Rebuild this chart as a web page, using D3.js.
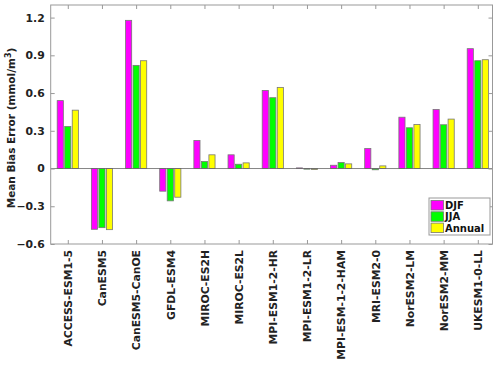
<!DOCTYPE html>
<html>
<head>
<meta charset="utf-8">
<script src="https://cdn.jsdelivr.net/npm/d3@7"></script>
<style>
  body { margin: 0; background: #fff; }
  text { font-family: "DejaVu Sans", sans-serif; font-weight: bold; }
</style>
</head>
<body>
<svg id="chart" width="500" height="369"></svg>
<script>
// models on the x axis
const models = [
  "ACCESS-ESM1-5", "CanESM5", "CanESM5-CanOE", "GFDL-ESM4", "MIROC-ES2H",
  "MIROC-ES2L", "MPI-ESM1-2-HR", "MPI-ESM1-2-LR", "MPI-ESM-1-2-HAM",
  "MRI-ESM2-0", "NorESM2-LM", "NorESM2-MM", "UKESM1-0-LL"
];

// mean bias error per season (mmol/m3)
const djf    = [0.54, -0.483, 1.178, -0.18, 0.223, 0.109, 0.621, 0.005, 0.026, 0.159, 0.408, 0.47, 0.953];
const jja    = [0.334, -0.47, 0.82, -0.257, 0.056, 0.034, 0.563, -0.005, 0.048, -0.01, 0.324, 0.348, 0.857];
const annual = [0.464, -0.486, 0.857, -0.228, 0.109, 0.045, 0.645, -0.008, 0.037, 0.021, 0.35, 0.393, 0.865];

const seriesNames = ["DJF", "JJA", "Annual"];
const seriesColors = ["#ff00ff", "#00ff00", "#ffff00"];
const yTicks = [-0.6, -0.3, 0, 0.3, 0.6, 0.9, 1.2];

const series = [djf, jja, annual];

const svg = d3.select("#chart");
const mLeft = 50.7, mRight = 492.5, mTop = 5, mBottom = 244;

const x = d3.scaleLinear().domain([0.5, 13.43]).range([mLeft, mRight]);
const y = d3.scaleLinear().domain([-0.6, 1.3]).range([mBottom, mTop]);

const groupStep = x(2) - x(1);
const barW = groupStep * 0.18;
const offset = groupStep * 0.22;

// ── bars ──
series.forEach((vals, si) => {
  svg.append("g")
    .selectAll("rect")
    .data(vals)
    .join("rect")
    .attr("x", (d, i) => x(i + 1) + (si - 1) * offset - barW / 2)
    .attr("y", d => y(Math.max(0, d)))
    .attr("width", barW)
    .attr("height", d => Math.abs(y(d) - y(0)))
    .attr("fill", seriesColors[si])
    .attr("stroke", "#777")
    .attr("stroke-width", 0.8);
});

// zero baseline
svg.append("line")
  .attr("x1", mLeft).attr("x2", mRight)
  .attr("y1", y(0)).attr("y2", y(0))
  .attr("stroke", "#666").attr("stroke-width", 0.8);

// ── axes (MATLAB style, ticks inward, box on) ──
const axisColor = "#999";
const tickLen = 4;

const yAxis = svg.append("g")
  .attr("transform", `translate(${mLeft},0)`)
  .call(d3.axisLeft(y).tickValues(yTicks).tickSizeInner(-tickLen).tickSizeOuter(0)
    .tickPadding(6).tickFormat(d => d === 0 ? "0" : d3.format(".1f")(d)));
yAxis.select(".domain").remove();
yAxis.selectAll("line").attr("stroke", axisColor);
yAxis.selectAll("text").attr("font-size", 10.8).attr("fill", "#222");

const yAxisR = svg.append("g")
  .attr("transform", `translate(${mRight},0)`)
  .call(d3.axisRight(y).tickValues(yTicks).tickSizeInner(-tickLen).tickSizeOuter(0).tickFormat(""));
yAxisR.select(".domain").remove();
yAxisR.selectAll("line").attr("stroke", axisColor);

const xAxis = svg.append("g")
  .attr("transform", `translate(0,${mBottom})`)
  .call(d3.axisBottom(x).tickValues(d3.range(1, 14)).tickSizeInner(-tickLen).tickSizeOuter(0)
    .tickFormat(d => models[d - 1]));
xAxis.select(".domain").remove();
xAxis.selectAll("line").attr("stroke", axisColor);
xAxis.selectAll("text")
  .attr("font-size", 10.8)
  .attr("fill", "#222")
  .attr("text-anchor", "end")
  .attr("transform", "rotate(-90)")
  .attr("x", -6)
  .attr("y", 0)
  .attr("dy", "0.35em");

const xAxisT = svg.append("g")
  .attr("transform", `translate(0,${mTop})`)
  .call(d3.axisTop(x).tickValues(d3.range(1, 14)).tickSizeInner(-tickLen).tickSizeOuter(0).tickFormat(""));
xAxisT.select(".domain").remove();
xAxisT.selectAll("line").attr("stroke", axisColor);

// frame
svg.append("rect")
  .attr("x", mLeft).attr("y", mTop)
  .attr("width", mRight - mLeft).attr("height", mBottom - mTop)
  .attr("fill", "none").attr("stroke", axisColor).attr("stroke-width", 1);

// y label
const ylab = svg.append("text")
  .attr("transform", "translate(15,128) rotate(-90)")
  .attr("text-anchor", "middle")
  .attr("font-size", 10.5)
  .attr("fill", "#222");
ylab.append("tspan").text("Mean Bias Error (mmol/m");
ylab.append("tspan").attr("dy", -4).attr("font-size", 8).text("3");
ylab.append("tspan").attr("dy", 4).text(")");

// ── legend ──
const lg = svg.append("g").attr("transform", "translate(429,198)");
lg.append("rect")
  .attr("width", 61).attr("height", 37)
  .attr("fill", "#fff").attr("stroke", "#999").attr("stroke-width", 1);
seriesNames.forEach((name, i) => {
  lg.append("rect")
    .attr("x", 2).attr("y", 2.5 + i * 11.3)
    .attr("width", 12.5).attr("height", 9.5)
    .attr("fill", seriesColors[i]).attr("stroke", "#777").attr("stroke-width", 0.8);
  lg.append("text")
    .attr("x", 16).attr("y", 7.5 + i * 11.3)
    .attr("dy", "0.35em")
    .attr("font-size", 10)
    .attr("fill", "#111")
    .text(name);
});
</script>
</body>
</html>
